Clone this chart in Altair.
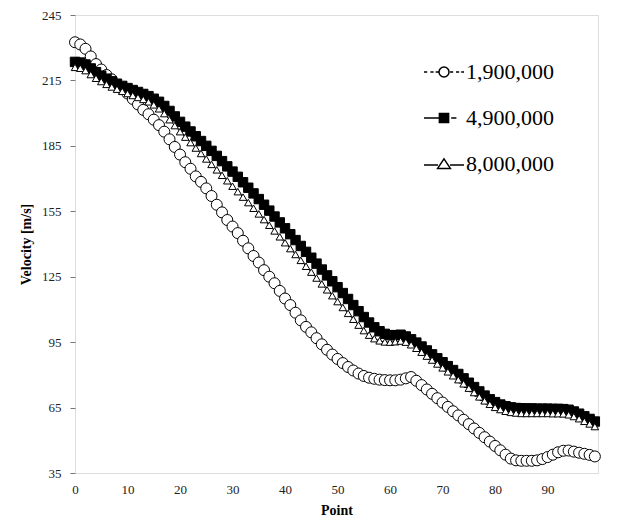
import altair as alt
import pandas as pd

points = list(range(100))
series_names = ["1,900,000", "4,900,000", "8,000,000"]
x_ticks = [0, 10, 20, 30, 40, 50, 60, 70, 80, 90]
y_ticks = [35, 65, 95, 125, 155, 185, 215, 245]

v_1900 = [232.5, 231.5, 229.5, 226, 222.5, 220, 217.5, 215.5, 213, 211,
          209, 206.5, 204, 201.5, 199.5, 197, 194.5, 191.5, 188, 184.5,
          181, 177.5, 174.5, 171, 168.5, 165.5, 162, 158, 154.5, 151,
          148, 145, 141.5, 138, 134.5, 131.5, 128, 125, 122, 118.5,
          115, 112, 108.5, 105, 102, 99.5, 96.8, 94, 91.5, 89.3,
          87.3, 85.4, 83.6, 82, 80.6, 79.5, 78.7, 78.2, 77.8, 77.6,
          77.5, 77.5, 77.8, 78.4, 79, 77.3, 75.3, 73.3, 71.3, 69.3,
          67.3, 65.3, 63.3, 61.4, 59.4, 57.4, 55.4, 53.4, 51.4, 49.4,
          47.4, 45.4, 43.4, 41.6, 40.8, 40.6, 40.6, 40.6, 40.8, 41.4,
          42.3, 43.4, 44.5, 45.2, 45.3, 44.8, 44.3, 43.8, 43.3, 42.6]

v_4900 = [223.5, 223.2, 222.3, 220.5, 218.8, 217.2, 215.8, 214.6, 213.5, 212.5,
          211.5, 210.6, 209.7, 208.8, 207.8, 206.6, 205.2, 203.3, 201, 198.5,
          196, 193.8, 191.6, 189.4, 187.2, 185, 182.7, 180.4, 178, 175.6,
          173.2, 170.8, 168.3, 165.8, 163.2, 160.6, 158, 155.3, 152.6, 149.9,
          147.2, 144.5, 141.8, 139.1, 136.4, 133.7, 131, 128.3, 125.6, 122.9,
          120.2, 117.5, 114.8, 112, 109.2, 106.5, 104, 101.8, 100, 98.8,
          98.2, 98.2, 98.4, 97.6, 96.3, 94.8, 93, 91.2, 89.4, 87.6,
          85.8, 84, 82.2, 80.4, 78.4, 76.4, 74.4, 72.4, 70.5, 68.8,
          67.5, 66.4, 65.6, 65.1, 64.8, 64.7, 64.6, 64.6, 64.5, 64.5,
          64.5, 64.4, 64.4, 64.3, 64, 63.2, 62.2, 61, 59.8, 58.6]

v_8000 = [221, 220.6, 219.5, 217.7, 216, 214.5, 213.2, 212, 211, 210,
          209, 208.1, 207.2, 206.3, 205.2, 203.8, 202, 199.8, 197, 194.3,
          191.5, 189, 186.5, 184, 181.5, 179, 176.5, 174, 171.5, 169,
          166.5, 164, 161.5, 159, 156.4, 153.8, 151.2, 148.6, 146, 143.3,
          140.6, 137.9, 135.2, 132.5, 129.8, 127.1, 124.4, 121.7, 119, 116.3,
          113.6, 110.9, 108.2, 105.5, 102.8, 100.3, 98.2, 96.6, 95.6, 95.1,
          95, 95.2, 95.5, 95, 93.8, 92.2, 90.4, 88.6, 86.8, 85,
          83.2, 81.4, 79.6, 77.8, 75.9, 73.9, 71.9, 69.9, 68.1, 66.5,
          65.1, 64.1, 63.3, 62.8, 62.5, 62.3, 62.3, 62.3, 62.3, 62.3,
          62.3, 62.2, 62.2, 62.1, 61.7, 60.9, 59.9, 58.7, 57.5, 56.3]

rows = []
for name, vals in zip(series_names, [v_1900, v_4900, v_8000]):
    for p, v in zip(points, vals):
        rows.append({"point": p, "velocity": v, "series": name, "legend_series": name})
df = pd.DataFrame(rows)

FONT = "Liberation Serif"

circle_path = ("M-1,0H-0.84M-0.68,0H-0.52M-0.42,0H-0.28"
               "M0.25,0A0.25,0.25 0 1,1 -0.25,0A0.25,0.25 0 1,1 0.25,0"
               "M0.3,0H0.46M0.6,0H0.76M0.86,0H1")
square_path = "M-1,0H-0.23M-0.23,-0.23H0.23V0.23H-0.23ZM0.36,0H0.62"
triangle_path = "M-1,0.05H-0.3M0.3,0.05H1M0,-0.26L0.32,0.22H-0.32Z"

legend = alt.Legend(
    title=None, orient="none", legendX=348, legendY=36,
    symbolSize=1600, symbolOpacity=1, symbolStrokeWidth=1.5,
    labelFont=FONT, labelFontSize=22, labelColor="black",
    labelOffset=1, rowPadding=14, padding=0,
)

x_enc = alt.X("point:Q",
              scale=alt.Scale(domain=[0, 99.6], nice=False, zero=False),
              axis=alt.Axis(values=x_ticks, title="Point", ticks=False, tickSize=0,
                            domain=False, grid=False, labelFont=FONT, labelFontSize=13,
                            labelColor="#222", labelPadding=10, labelFlush=False,
                            titleFont=FONT, titleFontSize=14, titleFontWeight="bold",
                            titleColor="black", titlePadding=7))
y_enc = alt.Y("velocity:Q",
              scale=alt.Scale(domain=[35, 245], nice=False, zero=False),
              axis=alt.Axis(values=y_ticks, title="Velocity [m/s]", tickSize=5,
                            tickColor="#777", domain=False, grid=False,
                            labelFont=FONT, labelFontSize=13, labelColor="#222",
                            labelPadding=9, titleFont=FONT, titleFontSize=14,
                            titleFontWeight="bold", titleColor="black", titlePadding=8))

lines = alt.Chart(df).mark_line(color="black", strokeWidth=1).encode(
    x=x_enc, y=y_enc, detail="series:N",
)

pts = alt.Chart(df).mark_point(opacity=1, strokeWidth=1).encode(
    x=x_enc, y=y_enc,
    shape=alt.Shape("series:N",
                    scale=alt.Scale(domain=series_names, range=["circle", "square", "triangle-up"]),
                    legend=None),
    fill=alt.Fill("series:N",
                  scale=alt.Scale(domain=series_names, range=["white", "black", "white"]),
                  legend=None),
    size=alt.Size("series:N",
                  scale=alt.Scale(domain=series_names, range=[121, 56, 144]),
                  legend=None),
    stroke=alt.value("black"),
)

legend_layer = alt.Chart(df).mark_point(opacity=0, strokeWidth=1.5).encode(
    x=x_enc, y=y_enc,
    shape=alt.Shape("legend_series:N",
                    scale=alt.Scale(domain=series_names,
                                    range=[circle_path, square_path, triangle_path]),
                    legend=legend),
    fill=alt.Fill("legend_series:N",
                  scale=alt.Scale(domain=series_names, range=["white", "black", "white"]),
                  legend=legend),
    stroke=alt.Stroke("legend_series:N",
                      scale=alt.Scale(domain=series_names, range=["black", "black", "black"]),
                      legend=legend),
)

chart = alt.layer(lines, pts, legend_layer).resolve_scale(
    shape="independent", fill="independent", size="independent", stroke="independent"
).properties(
    width=523, height=458,
    autosize=alt.AutoSizeParams(type="none"),
    padding={"left": 67, "top": 7, "right": 11, "bottom": 51},
).configure_view(stroke="black", strokeWidth=2).configure(background="white")

chart.save("out.html", embed_options={"renderer": "svg", "actions": False})
